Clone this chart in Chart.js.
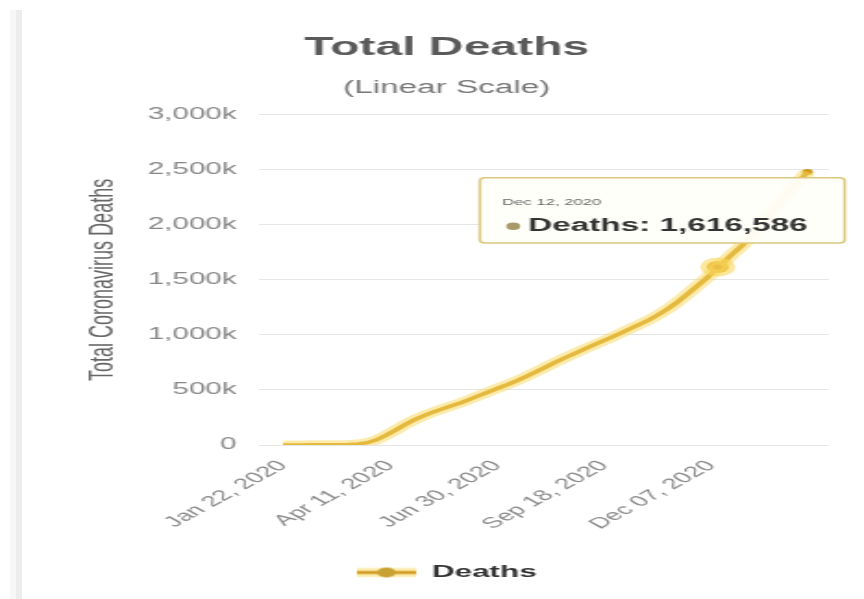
<!DOCTYPE html>
<html><head><meta charset="utf-8">
<script src="https://cdn.jsdelivr.net/npm/chart.js@4"></script>
<style>
html,body{margin:0;padding:0;background:#fff;width:864px;height:599px;overflow:hidden}
#strip{position:absolute;left:10px;top:10px;width:12px;bottom:0;background:linear-gradient(to right,#f5f7f8 0,#f5f7f8 50%,#eceeee 50%,#eceeee 100%)}
#wrap{position:absolute;left:22px;top:0;width:455px;height:599px;transform:scaleX(1.8505);transform-origin:0 0}
#c{display:block;width:455px;height:599px}
</style></head><body>
<div id="strip"></div>
<div id="wrap"><canvas id="c" width="455" height="599"></canvas></div>
<script>
const dates = [
 '2020-01-22','2020-01-29','2020-02-05','2020-02-12','2020-02-19','2020-02-26','2020-03-04','2020-03-11',
 '2020-03-18','2020-03-25','2020-04-01','2020-04-08','2020-04-15','2020-04-22','2020-04-29','2020-05-06',
 '2020-05-13','2020-05-20','2020-05-27','2020-06-03','2020-06-10','2020-06-17','2020-06-24','2020-07-01',
 '2020-07-08','2020-07-15','2020-07-22','2020-07-29','2020-08-05','2020-08-12','2020-08-19','2020-08-26',
 '2020-09-02','2020-09-09','2020-09-16','2020-09-23','2020-09-30','2020-10-07','2020-10-14','2020-10-21',
 '2020-10-28','2020-11-04','2020-11-11','2020-11-18','2020-11-25','2020-12-02','2020-12-09','2020-12-12',
 '2020-12-16','2020-12-23','2020-12-30','2021-01-06','2021-01-13','2021-01-20','2021-01-27','2021-02-03',
 '2021-02-10','2021-02-17'
];
const deaths = [
 17,170,565,1370,2130,2800,3290,4600,
 8800,21300,47200,88500,134000,184000,228000,264000,
 298000,328000,356000,384000,417000,451000,484000,518000,
 550000,585000,624000,664000,705000,748000,788000,826000,
 865000,902000,939000,975000,1014000,1054000,1093000,1134000,
 1180000,1232000,1291000,1358000,1428000,1499000,1575000,1616586,
 1656000,1736000,1810000,1898000,2000000,2100000,2200000,2300000,
 2385000,2480000
];
const tickDates = ['2020-01-22','2020-04-11','2020-06-30','2020-09-18','2020-12-07'];
const tickLabels = ['Jan 22, 2020','Apr 11, 2020','Jun 30, 2020','Sep 18, 2020','Dec 07, 2020'];
const yTickValues = [0,500000,1000000,1500000,2000000,2500000,3000000];
const yTickLabels = ['0','500k','1,000k','1,500k','2,000k','2,500k','3,000k'];
const tooltipDate = '2020-12-12';
const tooltipTitle = 'Dec 12, 2020';
const seriesName = 'Deaths';

const F = "'Liberation Sans', Arial, sans-serif";
function utc(s){const p=s.split('-').map(Number);return Date.UTC(p[0],p[1]-1,p[2]);}
const t0 = utc(dates[0]);
function dayOf(s){return Math.round((utc(s)-t0)/86400000);}
const points = dates.map((d,i)=>({x:dayOf(d), y:deaths[i]}));
const tickDays = tickDates.map(dayOf);

const GOLD = '#D39B22';
const GLOW = 'rgba(248,215,90,0.5)';
const lg = document.createElement('canvas'); lg.width=32; lg.height=16;
(function(){const g=lg.getContext('2d');
 g.strokeStyle=GLOW; g.lineWidth=9; g.beginPath(); g.moveTo(0,8); g.lineTo(32,8); g.stroke();
 g.strokeStyle=GOLD; g.lineWidth=3; g.beginPath(); g.moveTo(0,8); g.lineTo(32,8); g.stroke();
 g.fillStyle='#C9A236'; g.beginPath(); g.arc(16,8,5,0,Math.PI*2); g.fill();
})();

const TT = Chart.Tooltip || Chart.registry.getPlugin('tooltip');
TT.positioners.offsetAbove = function(items){
  if(!items.length) return false;
  const el = items[0].element;
  return {x: el.x - 30, y: el.y - 24};
};

const chart = new Chart(document.getElementById('c'), {
  type:'line',
  data:{datasets:[
    {label:'glow', data:points, borderColor:GLOW, borderWidth:9, pointRadius:0, pointHoverRadius:0, tension:0},
    {label:seriesName, data:points, borderColor:GOLD, borderWidth:3.5, tension:0,
     pointRadius: c => c.dataIndex===points.length-1 ? 3 : 0,
     pointBackgroundColor:GOLD, pointBorderWidth:0,
     pointHoverRadius:6, pointHoverBorderWidth:7,
     pointHoverBackgroundColor:'#DDA62C', pointHoverBorderColor:'rgba(250,215,90,0.6)'}
  ]},
  options:{
    responsive:false, animation:false, events:[],
    layout:{padding:{left:23,right:19,top:0,bottom:8}},
    scales:{
      x:{type:'linear', min:-18, max:408,
         grid:{display:false}, border:{display:false},
         afterBuildTicks: s => { s.ticks = tickDays.map(v=>({value:v})); },
         afterFit: s => { s.height = 109; },
         ticks:{autoSkip:false, minRotation:45, maxRotation:45, padding:4, color:'#8a8a8a',
                font:{family:F, size:15}, callback:(v,i)=>tickLabels[i]}},
      y:{min:0, max:3000000,
         afterBuildTicks: s => { s.ticks = yTickValues.map(v=>({value:v})); },
         afterFit: s => { s.width = 105; },
         grid:{color:'#e6e6e6', drawTicks:false, lineWidth:1}, border:{display:false},
         ticks:{padding:12, color:'#888', font:{family:F, size:16},
                callback:(v,i)=>yTickLabels[i]},
         title:{display:true, text:'Total Coronavirus Deaths', color:'#666',
                font:{family:F, size:18}, padding:{top:10, bottom:0}}}
    },
    plugins:{
      title:{display:true, text:'Total Deaths', color:'#5a5a5a', font:{family:F, size:26, weight:'bold'}, padding:{top:32,bottom:0}},
      subtitle:{display:true, text:'(Linear Scale)', color:'#777', font:{family:F, size:18}, padding:{top:14,bottom:16}},
      legend:{position:'bottom', labels:{usePointStyle:true, pointStyleWidth:32, color:'#333', padding:10,
        font:{family:F, size:17, weight:'bold'},
        generateLabels: () => [{text:seriesName, pointStyle:lg, fillStyle:GOLD, strokeStyle:GOLD, lineWidth:0, hidden:false, datasetIndex:1, fontColor:'#333'}]}},
      tooltip:{enabled:true, position:'offsetAbove', xAlign:'center', yAlign:'bottom',
        backgroundColor:'rgba(255,255,250,0.95)', borderColor:'#DCC77F', borderWidth:1.5, cornerRadius:3,
        caretSize:0, caretPadding:0,
        padding:{top:19,bottom:6,left:12,right:20},
        titleColor:'#666', titleFont:{family:F, size:9, weight:'normal'}, titleMarginBottom:8,
        bodyColor:'#333', bodyFont:{family:F, size:18, weight:'bold'},
        displayColors:true, usePointStyle:true, boxWidth:12, boxHeight:6,
        filter: it => it.datasetIndex===1,
        callbacks:{
          title: () => tooltipTitle,
          label: it => seriesName + ': ' + it.parsed.y.toLocaleString('en-US'),
          labelColor: () => ({borderColor:'#A89A6A', backgroundColor:'#A89A6A'}),
          labelPointStyle: () => ({pointStyle:'circle', rotation:0})
        }}
    }
  }
});
const idx = dates.indexOf(tooltipDate);
const el = chart.getDatasetMeta(1).data[idx];
const act = [{datasetIndex:1, index:idx}];
chart.setActiveElements(act);
chart.tooltip.setActiveElements(act, {x:el.x, y:el.y});
chart.update();
</script>
</body></html>
